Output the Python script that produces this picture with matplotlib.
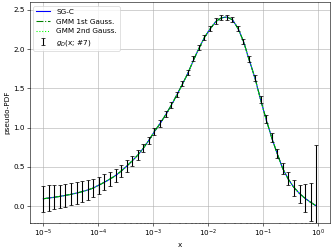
import numpy as np
import matplotlib
matplotlib.use("Agg")
import matplotlib.pyplot as plt

# ── data ──────────────────────────────────────────────────────────────────────
# log10 of the x positions (shared by curves and error bars)
x_exp = [-5.00, -4.90, -4.80, -4.70, -4.60, -4.49, -4.39, -4.29, -4.19, -4.09,
         -3.99, -3.89, -3.79, -3.68, -3.58, -3.48, -3.38, -3.28, -3.18, -3.08,
         -2.98, -2.87, -2.77, -2.67, -2.57, -2.47, -2.37, -2.27, -2.17, -2.07,
         -1.96, -1.86, -1.76, -1.66, -1.56, -1.46, -1.36, -1.26, -1.15, -1.05,
         -0.95, -0.85, -0.75, -0.65, -0.55, -0.45, -0.34, -0.24, -0.14, -0.04]

sg_c = [0.095, 0.104, 0.114, 0.125, 0.138, 0.152, 0.168, 0.186, 0.207, 0.232,
        0.268, 0.305, 0.345, 0.393, 0.450, 0.512, 0.580, 0.652, 0.740, 0.840,
        0.950, 1.060, 1.170, 1.290, 1.420, 1.555, 1.695, 1.860, 2.010, 2.150,
        2.265, 2.355, 2.400, 2.410, 2.375, 2.265, 2.100, 1.870, 1.630, 1.360,
        1.110, 0.880, 0.675, 0.485, 0.350, 0.245, 0.160, 0.100, 0.050, 0.005]

gmm_1st = list(sg_c)
gmm_2nd = list(sg_c)

gd_vals = [0.095, 0.104, 0.114, 0.125, 0.138, 0.152, 0.168, 0.186, 0.207, 0.232,
           0.268, 0.305, 0.345, 0.393, 0.450, 0.512, 0.580, 0.652, 0.740, 0.840,
           0.955, 1.055, 1.170, 1.290, 1.425, 1.560, 1.700, 1.880, 2.020, 2.150,
           2.260, 2.360, 2.400, 2.405, 2.380, 2.260, 2.100, 1.870, 1.630, 1.360,
           1.110, 0.870, 0.670, 0.480, 0.355, 0.230, 0.155, 0.105, 0.050, 0.005]

gd_err = [0.165, 0.160, 0.155, 0.150, 0.145, 0.140, 0.135, 0.130, 0.124, 0.117,
          0.108, 0.100, 0.093, 0.086, 0.079, 0.072, 0.065, 0.058, 0.052, 0.047,
          0.043, 0.040, 0.038, 0.036, 0.035, 0.034, 0.033, 0.033, 0.033, 0.033,
          0.033, 0.033, 0.033, 0.033, 0.033, 0.034, 0.035, 0.037, 0.040, 0.045,
          0.050, 0.058, 0.062, 0.070, 0.085, 0.100, 0.117, 0.175, 0.240, 0.780]

x = 10 ** np.array(x_exp)

# ── figure ────────────────────────────────────────────────────────────────────
fig = plt.figure(figsize=(6.4, 4.8), dpi=51.875)
fig.subplots_adjust(left=0.089, right=0.994, bottom=0.106, top=0.99)
ax = fig.add_subplot(111)

ax.plot(x, sg_c, color="blue", linestyle="-", label="SG-C")
ax.plot(x, gmm_1st, color="green", linestyle="-.", label="GMM 1st Gauss.")
ax.plot(x, gmm_2nd, color="lime", linestyle=":", label="GMM 2nd Gauss.")
ax.errorbar(x, gd_vals, yerr=gd_err, fmt="none", ecolor="black",
            capsize=2.5, elinewidth=1.5, label=r"$g_D$(x; #7)")

ax.set_xscale("log")
ax.set_xlim(10 ** -5.25, 10 ** 0.213)
ax.set_ylim(-0.209, 2.595)
ax.set_xlabel("x")
ax.set_ylabel("pseudo-PDF")
ax.grid(True)
ax.legend(loc="upper left")

fig.savefig("out.png", dpi=51.875)
